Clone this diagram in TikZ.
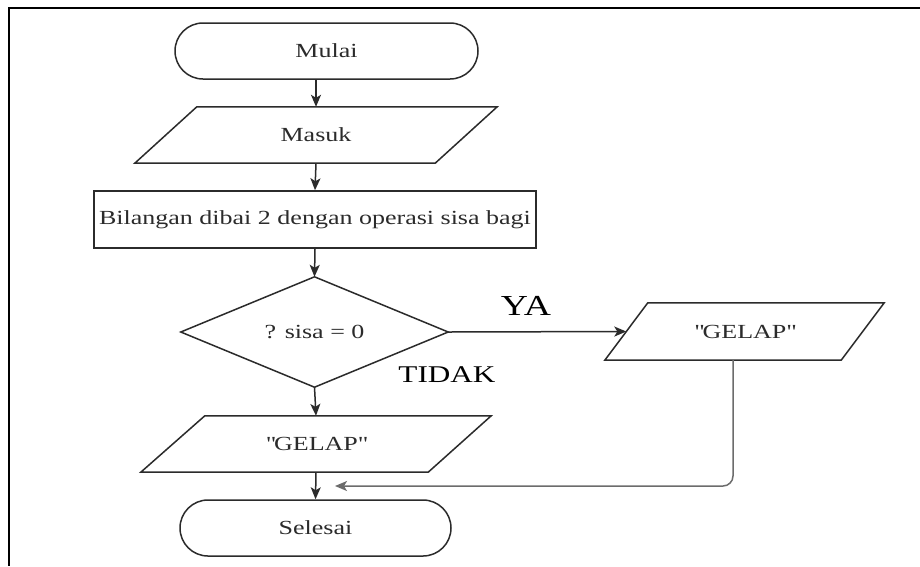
\documentclass[tikz,border=0pt]{standalone}
\usepackage{fontspec}
\setmainfont[FakeStretch=1.3]{Liberation Serif}
\usetikzlibrary{arrows.meta,calc}
\definecolor{ink}{HTML}{2B2B2B}
% a straight double quote, taken as a glyph so no ligature mapping turns it curly
\newcommand\straightdq{\XeTeXglyph\XeTeXcharglyph"22\relax}
\begin{document}
\begin{tikzpicture}[x=1pt,y=-1pt,
  outline/.style={draw=ink, line width=1.5pt},
  flow/.style={draw=ink, line width=1.5pt, -{Stealth[length=12pt,width=10pt,inset=3pt]}},
  txt/.style={text=ink, font=\fontsize{20}{23}\selectfont},
  terminal/.style={txt, outline, rounded corners=28pt, inner sep=0pt, minimum height=56pt},
  slot/.style={txt, inner sep=0pt},
]
\useasboundingbox (0,0) rectangle (920,566);
\fill[white] (0,0) rectangle (920,566);
% page frame
\draw[line width=2.5pt, black] (920,8) -- (9,8) -- (9,566);

% start
\node[terminal, minimum width=303pt] (mulai) at (326.5,51) {Mulai};

% input
\node[slot, minimum width=362pt, minimum height=56pt] (masuk) at (316,135) {Masuk};
\draw[outline] ($(masuk.north west)+(62,0)$) -- (masuk.north east)
  -- ($(masuk.south east)+(-62,0)$) -- (masuk.south west) -- cycle;

% process
\node[slot, outline, minimum width=442pt, minimum height=57pt] (proses) at (315,219.5)
  {Bilangan dibai 2 dengan operasi sisa bagi};

% decision
\node[slot, minimum width=267pt, minimum height=110pt] (cek) at (314.5,332) {? sisa = 0};
\draw[outline] (cek.north) -- (cek.east) -- (cek.south) -- (cek.west) -- cycle;

% output (no branch)
\node[slot, minimum width=350pt, minimum height=56pt] (gelapA) at (316,444)
  {\straightdq GELAP\straightdq};
\draw[outline] ($(gelapA.north west)+(64,0)$) -- (gelapA.north east)
  -- ($(gelapA.south east)+(-63,0)$) -- (gelapA.south west) -- cycle;

% output (yes branch)
\node[slot, minimum width=279pt, minimum height=57pt] (gelapB) at (744.5,331.5)
  {\straightdq GELAP\straightdq};
\draw[outline] ($(gelapB.north west)+(43,0)$) -- (gelapB.north east)
  -- ($(gelapB.south east)+(-43,0)$) -- (gelapB.south west) -- cycle;
\coordinate (gelapBin) at ($(gelapB.west)+(21.5,0)$);
\coordinate (gelapBout) at ($(gelapB.south)+(-11.5,0)$);

% end
\node[terminal, minimum width=271pt] (selesai) at (315.5,528) {Selesai};
\coordinate (join) at (335,486);

% connectors
\draw[flow] (mulai.south -| masuk.north) -- (masuk.north);
\draw[flow] (masuk.south) -- (proses.north);
\draw[flow] (proses.south) -- (cek.north);
\draw[flow] (cek.south) -- (gelapA.north);
\draw[flow] (gelapA.south) -- (selesai.north);
\draw[flow] (cek.east) -- (gelapBin);
\draw[flow, draw=gray!85!black, rounded corners=10pt] (gelapBout) |- (join);

% branch labels
\node[text=black, font=\fontsize{29}{33}\selectfont] (ya) at (526,306) {YA};
\node[text=black, font=\fontsize{24}{28}\selectfont] (tidak) at (447,375) {TIDAK};
\end{tikzpicture}
\end{document}
